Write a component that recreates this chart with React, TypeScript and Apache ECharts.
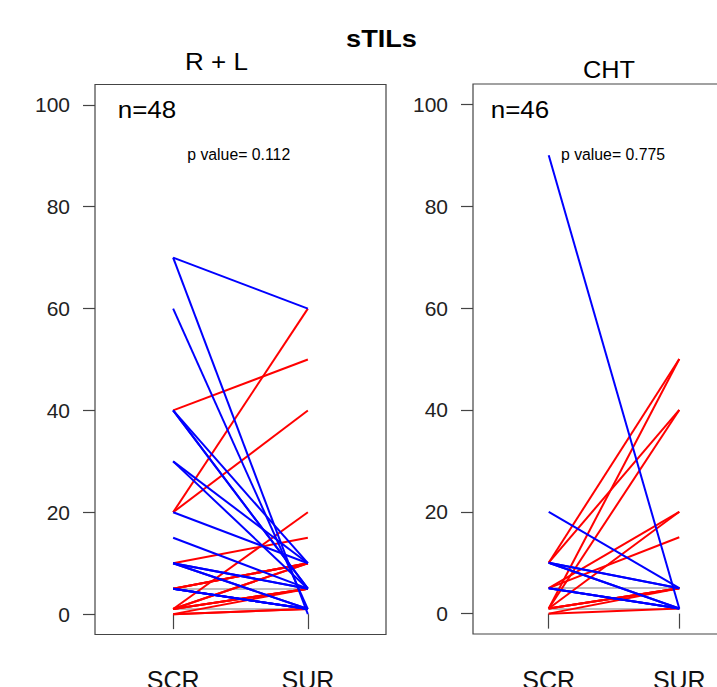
import React, { useEffect, useRef } from "react";
import * as echarts from "echarts";

// ---- data ----
const mainTitle = "sTILs";
const panelTitles = ["R + L", "CHT"];
const panelN = ["n=48", "n=46"];
const panelP = ["p value= 0.112", "p value= 0.775"];
const timeLabels = ["SCR", "SUR"];
const yTicks = [0, 20, 40, 60, 80, 100];

// R + L panel: paired values (SCR -> SUR), one entry per patient
const rlScr = [
  70, 70, 60, 40, 40, 40, 30, 30, 20, 15, 10, 10, 10, 10, 5, 5, 5, 5,
  40, 20, 20, 10, 5, 5, 5, 1, 1, 1, 1, 1, 1, 0, 0, 0,
  5, 5, 5, 5, 1, 1, 1, 1, 1, 1, 1, 1, 1, 1,
];
const rlSur = [
  60, 0, 1, 10, 5, 5, 5, 10, 10, 5, 5, 5, 1, 1, 1, 1, 1, 1,
  50, 60, 40, 15, 10, 10, 10, 20, 10, 10, 5, 5, 5, 1, 1, 5,
  5, 5, 5, 5, 1, 1, 1, 1, 1, 1, 1, 1, 1, 1,
];

// CHT panel
const chtScr = [
  90, 20, 10, 10, 10, 10, 5, 5, 5,
  10, 1, 10, 1, 5, 1, 5, 1, 1, 1, 0, 0,
  5, 5, 5, 5, 5, 1, 1, 1, 1, 1, 1, 1, 1, 1, 1, 1, 1, 1, 1, 1, 1, 1, 1, 1, 1,
];
const chtSur = [
  1, 5, 5, 5, 1, 1, 1, 1, 1,
  50, 50, 40, 40, 20, 20, 15, 5, 5, 5, 5, 1,
  5, 5, 5, 5, 5, 1, 1, 1, 1, 1, 1, 1, 1, 1, 1, 1, 1, 1, 1, 1, 1, 1, 1, 1, 1,
];

const FONT = "'Liberation Sans', Arial, Helvetica, sans-serif";
const BLUE = "#0000ff";
const RED = "#ff0000";
const GRAY = "#bebebe";

function pairLines(scr: number[], sur: number[], kind: "down" | "up" | "same") {
  const out: any[] = [];
  scr.forEach((a, i) => {
    const b = sur[i];
    const k = b < a ? "down" : b > a ? "up" : "same";
    if (k === kind) out.push({ coords: [[1, a], [2, b]] });
  });
  return out;
}

export default function App() {
  const ref = useRef<HTMLDivElement>(null);
  useEffect(() => {
    if (!ref.current) return;
    const chart = echarts.init(ref.current, null, { renderer: "svg" });

    const grids = [
      { left: 95, top: 84.5, width: 291, height: 550 },
      { left: 473, top: 84, width: 282, height: 550 },
    ];

    const xAxes = grids.map((_, i) => ({
      type: "value",
      gridIndex: i,
      min: 0.42,
      max: 2.58,
      axisLine: { show: false },
      splitLine: { show: false },
      axisTick: {
        show: true,
        customValues: [1, 2],
        length: 15,
        lineStyle: { color: "#444", width: 1.2 },
      },
      axisLabel: {
        show: true,
        customValues: [1, 2],
        formatter: (v: number) => timeLabels[Math.round(v) - 1] ?? "",
        margin: 33,
        fontSize: 25,
        fontFamily: FONT,
        color: "#111",
      },
    }));

    const yAxes = grids.map((_, i) => ({
      type: "value",
      gridIndex: i,
      min: -4,
      max: 104,
      axisLine: { show: false },
      splitLine: { show: false },
      axisTick: {
        show: true,
        customValues: yTicks,
        length: 12,
        lineStyle: { color: "#444", width: 1.2 },
      },
      axisLabel: {
        show: true,
        customValues: yTicks,
        margin: 25,
        fontSize: 21,
        fontFamily: FONT,
        color: "#222",
      },
    }));

    const mk = (idx: number, scr: number[], sur: number[], kind: any, color: string) => ({
      type: "lines",
      coordinateSystem: "cartesian2d",
      xAxisIndex: idx,
      yAxisIndex: idx,
      polyline: false,
      silent: true,
      lineStyle: { color, width: 2, opacity: 1 },
      data: pairLines(scr, sur, kind),
    });

    const series = [
      mk(0, rlScr, rlSur, "same", GRAY),
      mk(0, rlScr, rlSur, "up", RED),
      mk(0, rlScr, rlSur, "down", BLUE),
      mk(1, chtScr, chtSur, "same", GRAY),
      mk(1, chtScr, chtSur, "up", RED),
      mk(1, chtScr, chtSur, "down", BLUE),
    ];

    const txt = (
      text: string,
      x: number,
      y: number,
      size: number,
      sx: number,
      align: string,
      bold = false
    ) => ({
      type: "text",
      x,
      y,
      scaleX: sx,
      silent: true,
      style: {
        text,
        x: 0,
        y: 0,
        fontSize: size,
        fontFamily: FONT,
        fontWeight: bold ? "bold" : "normal",
        fill: "#000",
        align,
        verticalAlign: "middle",
      },
    });

    chart.setOption({
      animation: false,
      backgroundColor: "#fff",
      grid: grids.map((g) => ({
        ...g,
        show: true,
        containLabel: false,
        outerBoundsMode: "none",
        borderColor: "#444",
        borderWidth: 1.2,
        backgroundColor: "transparent",
      })),
      xAxis: xAxes,
      yAxis: yAxes,
      series,
      graphic: [
        txt(mainTitle, 381.5, 38.5, 23, 1.18, "center", true),
        txt(panelTitles[0], 216.5, 62.5, 23, 1.13, "center"),
        txt(panelTitles[1], 609, 70, 23, 1.1, "center"),
        txt(panelN[0], 117.7, 110, 23, 1.13, "left"),
        txt(panelN[1], 490.7, 110, 23, 1.13, "left"),
        txt(panelP[0], 238.7, 153.5, 17, 0.93, "center"),
        txt(panelP[1], 613, 153.5, 17, 0.93, "center"),
      ],
    });

    return () => chart.dispose();
  }, []);

  return (
    <div
      ref={ref}
      style={{ position: "fixed", left: 0, top: 0, width: 717, height: 687, background: "#fff" }}
    />
  );
}
